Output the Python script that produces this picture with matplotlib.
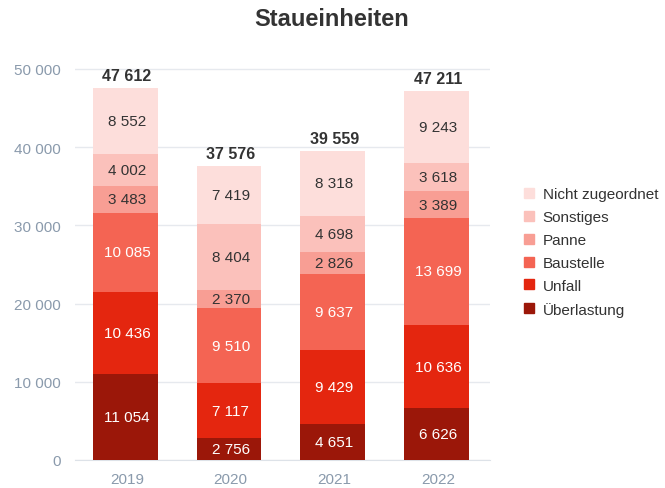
import matplotlib
matplotlib.use("Agg")
import matplotlib.pyplot as plt
from matplotlib.lines import Line2D
import numpy as np

plt.rcParams['font.family'] = ['Liberation Sans', 'DejaVu Sans']

years = ["2019", "2020", "2021", "2022"]
series_names = ["Überlastung", "Unfall", "Baustelle", "Panne", "Sonstiges", "Nicht zugeordnet"]
ueberlastung = [11054, 2756, 4651, 6626]
unfall = [10436, 7117, 9429, 10636]
baustelle = [10085, 9510, 9637, 13699]
panne = [3483, 2370, 2826, 3389]
sonstiges = [4002, 8404, 4698, 3618]
nicht_zugeordnet = [8552, 7419, 8318, 9243]
totals = [47612, 37576, 39559, 47211]

colors = ["#9B1709", "#E4260F", "#F46453", "#F89E94", "#FBC1BB", "#FDDEDB"]
text_colors = ["white", "white", "white", "#333333", "#333333", "#333333"]

def fmt(v):
    return f"{v:,}".replace(",", " ")

fig = plt.figure(figsize=(6.65, 4.89), dpi=100)
ax = fig.add_axes([75/665, 1-461/489, 415/665, (461-62)/489])

x = np.arange(len(years))
data = [ueberlastung, unfall, baustelle, panne, sonstiges, nicht_zugeordnet]
bottom = np.zeros(len(years))
for vals, c, tc in zip(data, colors, text_colors):
    vals = np.array(vals)
    ax.bar(x - 0.015, vals, width=0.625, bottom=bottom, color=c, zorder=3)
    for xi, b, v in zip(x, bottom, vals):
        ax.text(xi, b + v / 2, fmt(v), ha="center", va="center", color=tc,
                fontsize=11, zorder=4)
    bottom = bottom + vals

for xi, t in zip(x, totals):
    ax.text(xi, t + 600, fmt(t), ha="center", va="bottom", color="#333333",
            fontsize=11.5, fontweight="bold", zorder=4)

ax.set_xlim(-0.5, 3.5)
ax.set_ylim(0, 51000)
ax.set_yticks(range(0, 50001, 10000))
ax.set_yticklabels([fmt(v) for v in range(0, 50001, 10000)])
ax.set_xticks(x)
ax.set_xticklabels(years)
ax.tick_params(axis="both", length=0, colors="#8A9AAC", labelsize=11)
ax.tick_params(axis="y", pad=10)
ax.tick_params(axis="x", pad=9)
ax.grid(axis="y", color="#E6E9EE", linewidth=1, zorder=0)
for s in ["top", "right", "left"]:
    ax.spines[s].set_visible(False)
ax.spines["bottom"].set_color("#DDE2E8")

fig.text(332/665, 1-20/489, "Staueinheiten", ha="center", va="center",
         fontsize=17, fontweight="bold", color="#333333")

handles = [Line2D([0], [0], marker="s", linestyle="", markersize=7,
                  markerfacecolor=c, markeredgecolor=c) for c in colors[::-1]]
fig.legend(handles, series_names[::-1], loc="center left",
           bbox_to_anchor=(506/665, 1-253/489), frameon=False,
           fontsize=11, labelcolor="#333333", handletextpad=0.3,
           labelspacing=0.58, handlelength=1.2)

fig.savefig("out.png", dpi=100)
